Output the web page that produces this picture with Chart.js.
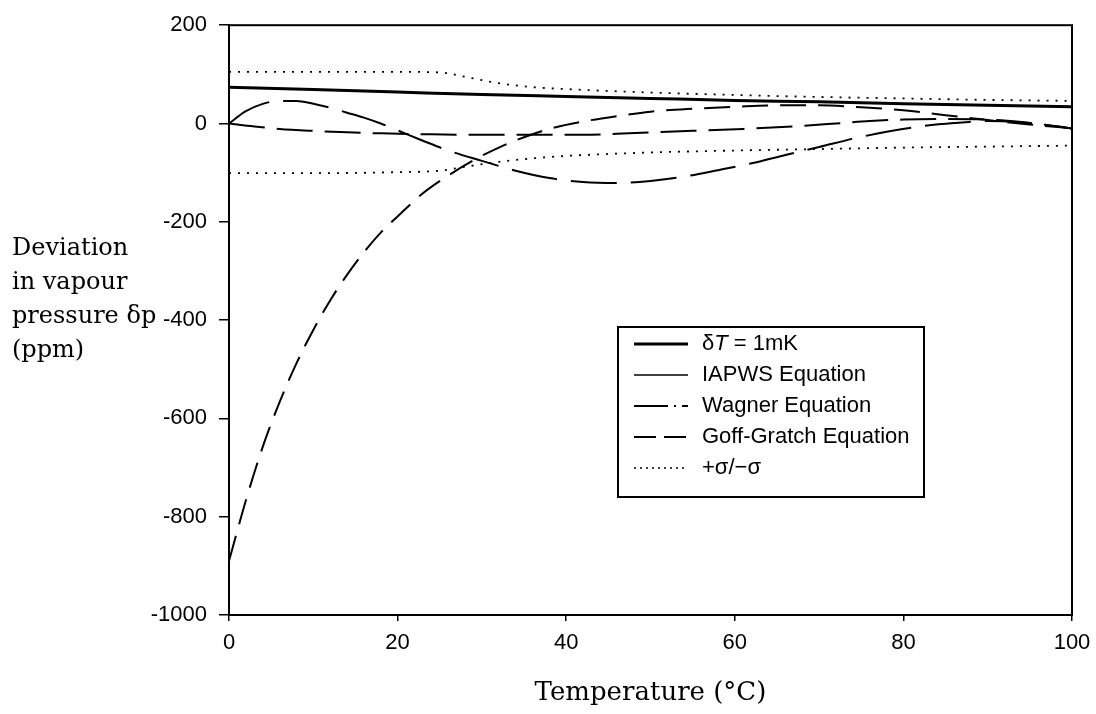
<!DOCTYPE html>
<html>
<head>
<meta charset="utf-8">
<script src="https://cdn.jsdelivr.net/npm/chart.js@4.4.0/dist/chart.umd.min.js"></script>
<style>
  html, body { margin: 0; padding: 0; background: #fff; }
  #wrap { position: relative; width: 1096px; height: 714px; }
</style>
</head>
<body>
<div id="wrap"><canvas id="chart" width="1096" height="714"></canvas></div>
<script>
// deviation for a 1 mK temperature error
const tempDT = [0, 10, 20, 30, 40, 50, 60, 70, 80, 90, 100];
const devDT = [74, 69, 64, 59, 55, 51, 47, 44, 40, 37, 34];

// IAPWS equation
const tempIAPWS = [0, 3, 6, 10, 14, 18, 24, 30, 36, 42, 46, 50, 55, 61, 67, 72, 76, 80, 85, 90, 94, 97, 100];
const devIAPWS = [0, -6, -11, -15, -18, -20, -22, -23, -23, -23, -21, -18, -15, -11, -6, 0, 5, 8, 9, 8, 3, -3, -10];

// Wagner equation
const tempWagner = [0, 2, 4, 6, 8, 10, 12, 14, 16, 18, 20, 23, 26, 30, 34, 38, 42, 46, 50, 54, 58, 62, 66, 70, 74, 78, 82, 86, 90, 94, 97, 100];
const devWagner = [0, 25, 40, 46, 46, 40, 32, 22, 12, 0, -14, -35, -55, -76, -96, -111, -119, -121, -117, -108, -95, -81, -64, -48, -31, -17, -6, 1, 5, 2, -3, -10];

// Goff-Gratch equation
const tempGoff = [0, 2, 4, 6, 8, 10, 12, 14, 16, 18, 20, 23, 26, 29, 32, 35, 38, 42, 46, 50, 55, 60, 65, 70, 75, 80, 85, 90, 95, 100];
const devGoff = [-890, -767, -658, -567, -488, -420, -360, -308, -262, -222, -189, -142, -106, -75, -49, -28, -11, 4, 15, 24, 30, 34, 37, 37, 33, 27, 17, 7, -2, -10];

// +sigma / -sigma
const tempSigma = [0, 10, 20, 25, 28, 32, 36, 40, 50, 60, 70, 80, 90, 100];
const sigmaUpper = [105, 105, 105, 104, 95, 82, 74, 70, 63, 58, 54, 51, 48, 46];
const sigmaLower = [-101, -101, -99, -96, -88, -78, -71, -66, -59, -55, -52, -49, -47, -45];

const yTicks = [200, 0, -200, -400, -600, -800, -1000];
const xTicks = [0, 20, 40, 60, 80, 100];
const legendLabels = ['\u03B4T = 1mK', 'IAPWS Equation', 'Wagner Equation', 'Goff-Gratch Equation', '+\u03C3/\u2212\u03C3'];
const yTitleLines = ['Deviation', 'in vapour', 'pressure \u03B4p', '(ppm)'];

const pts = (xs, ys) => xs.map((x, i) => ({ x: x, y: ys[i] }));

const lineBase = {
  borderColor: '#000',
  backgroundColor: '#000',
  pointRadius: 0,
  fill: false,
  tension: 0.3,
  cubicInterpolationMode: 'monotone'
};

// legend samples, same order as legendLabels
const legendStyles = [
  { width: 3, dash: [] },
  { width: 1.5, dash: [] },
  { width: 2, dash: [34, 6, 2, 6] },
  { width: 2, dash: [22, 8] },
  { width: 1.5, dash: [2, 4] }
];

const sansFont = '"Liberation Sans", Arial, sans-serif';

const framePlugin = {
  id: 'frame',
  afterDraw(chart) {
    const ctx = chart.ctx;
    const a = chart.chartArea;
    ctx.save();
    ctx.strokeStyle = '#000';
    ctx.lineWidth = 2;
    ctx.strokeRect(a.left, a.top, a.right - a.left, a.bottom - a.top);

    // legend box
    const bx = 618, by = 327, bw = 306, bh = 170;
    ctx.fillStyle = '#fff';
    ctx.fillRect(bx, by, bw, bh);
    ctx.strokeRect(bx, by, bw, bh);
    ctx.font = '22px ' + sansFont;
    ctx.textBaseline = 'middle';
    ctx.fillStyle = '#000';
    legendLabels.forEach((lab, i) => {
      const y = 344 + i * 31;
      const st = legendStyles[i];
      ctx.beginPath();
      ctx.lineWidth = st.width;
      ctx.setLineDash(st.dash);
      ctx.moveTo(634, y);
      ctx.lineTo(688, y);
      ctx.stroke();
      ctx.setLineDash([]);
      if (i === 0) {
        ctx.fillText('\u03B4', 702, y);
        const w = ctx.measureText('\u03B4').width;
        ctx.font = 'italic 22px ' + sansFont;
        ctx.fillText('T', 702 + w, y);
        const w2 = ctx.measureText('T').width;
        ctx.font = '22px ' + sansFont;
        ctx.fillText(' = 1mK', 702 + w + w2, y);
      } else {
        ctx.fillText(lab, 702, y);
      }
    });

    // y axis title, left of the tick labels
    ctx.font = '24px "DejaVu Serif", serif';
    ctx.textAlign = 'left';
    yTitleLines.forEach((t, i) => {
      ctx.fillText(t, 12, 249 + i * 34);
    });
    ctx.restore();
  }
};

new Chart(document.getElementById('chart'), {
  type: 'line',
  data: {
    datasets: [
      Object.assign({}, lineBase, { label: legendLabels[0], data: pts(tempDT, devDT), borderWidth: 3 }),
      Object.assign({}, lineBase, { label: legendLabels[1], data: pts(tempIAPWS, devIAPWS), borderWidth: 2, borderDash: [36, 12] }),
      Object.assign({}, lineBase, { label: legendLabels[2], data: pts(tempWagner, devWagner), borderWidth: 2, borderDash: [46, 14] }),
      Object.assign({}, lineBase, { label: legendLabels[3], data: pts(tempGoff, devGoff), borderWidth: 2, borderDash: [26, 12] }),
      Object.assign({}, lineBase, { label: legendLabels[4], data: pts(tempSigma, sigmaUpper), borderWidth: 1.8, borderDash: [2, 7] }),
      Object.assign({}, lineBase, { label: 'minus sigma', data: pts(tempSigma, sigmaLower), borderWidth: 1.8, borderDash: [2, 7] })
    ]
  },
  options: {
    responsive: false,
    animation: false,
    devicePixelRatio: 1,
    layout: { padding: { left: 0, right: 24, top: 18, bottom: 0 } },
    plugins: {
      legend: { display: false },
      tooltip: { enabled: false }
    },
    scales: {
      x: {
        type: 'linear',
        min: 0,
        max: 100,
        afterBuildTicks: (scale) => { scale.ticks = xTicks.map(v => ({ value: v })); },
        afterFit: (scale) => { scale.height = 99; scale.paddingLeft = 0; scale.paddingRight = 0; },
        grid: { drawOnChartArea: false, drawTicks: true, tickLength: 6, color: '#000', lineWidth: 1.5 },
        border: { display: true, color: '#000', width: 2 },
        ticks: {
          color: '#000',
          padding: 9,
          maxRotation: 0,
          callback: (v) => String(v),
          font: { family: sansFont, size: 22 }
        },
        title: {
          display: true,
          text: 'Temperature (\u00B0C)',
          color: '#000',
          padding: { top: 0, bottom: 5 },
          font: { family: '"DejaVu Serif", serif', size: 26 }
        }
      },
      y: {
        type: 'linear',
        min: -1000,
        max: 200,
        afterBuildTicks: (scale) => { scale.ticks = yTicks.map(v => ({ value: v })); },
        afterFit: (scale) => { scale.width = 229; },
        grid: { drawOnChartArea: false, drawTicks: true, tickLength: 10, color: '#000', lineWidth: 1.5 },
        border: { display: true, color: '#000', width: 2 },
        ticks: {
          color: '#000',
          padding: 12,
          callback: (v) => String(v),
          font: { family: sansFont, size: 22 }
        }
      }
    }
  },
  plugins: [framePlugin]
});
</script>
</body>
</html>
